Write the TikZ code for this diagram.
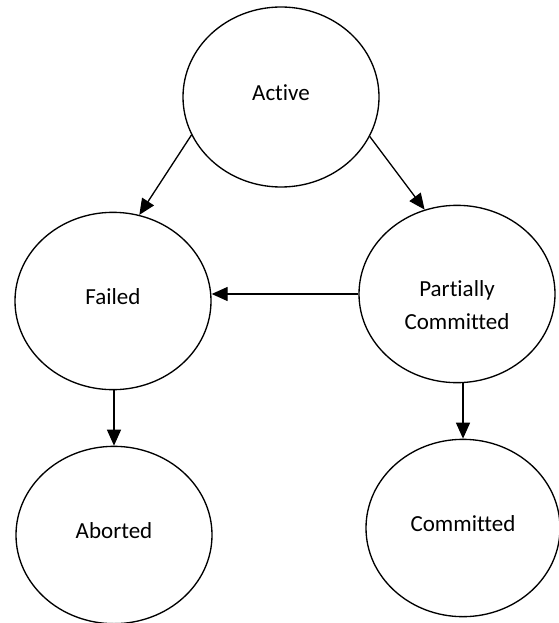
\documentclass[tikz,border=0pt]{standalone}
\usepackage{fontspec}
\setmainfont{Carlito}[Ligatures=NoCommon]
\usetikzlibrary{shapes.geometric,arrows.meta}

\begin{document}
\begin{tikzpicture}[
    x=0.75pt, y=-0.75pt,
    phase/.style={ellipse, draw, line width=1pt, inner sep=0pt,
                  minimum width=147pt, minimum height=133pt,
                  font=\fontsize{17.25}{24.75}\selectfont, align=center,
                  text height=11.25pt, text depth=6pt},
    flow/.style={-{Triangle[length=12pt, width=10.5pt]}, line width=1pt},
]

\useasboundingbox (0,0) rectangle (558,623);

% states
\node[phase, minimum height=135pt] (active) at (281,97) {Active};
\node[phase] (failed) at (113,301) {Failed};
\node[phase, text height=52.5pt, text depth=0pt] (partial) at (457,294)
  {Partially\\Committed};
\node[phase] (aborted) at (114,535) {Aborted};
\node[phase, minimum width=145.5pt] (committed) at (463,528) {Committed};

% transitions
\draw[flow] (active.203.3) -- (failed.73.2);
\draw[flow] (active.336.3) -- (partial.111.8);
\draw[flow] (partial.west) -- (partial.west -| failed.east);
\draw[flow] (aborted.north |- failed.south) -- (aborted.north);
\draw[flow] (committed.north |- partial.south) -- (committed.north);

\end{tikzpicture}
\end{document}
